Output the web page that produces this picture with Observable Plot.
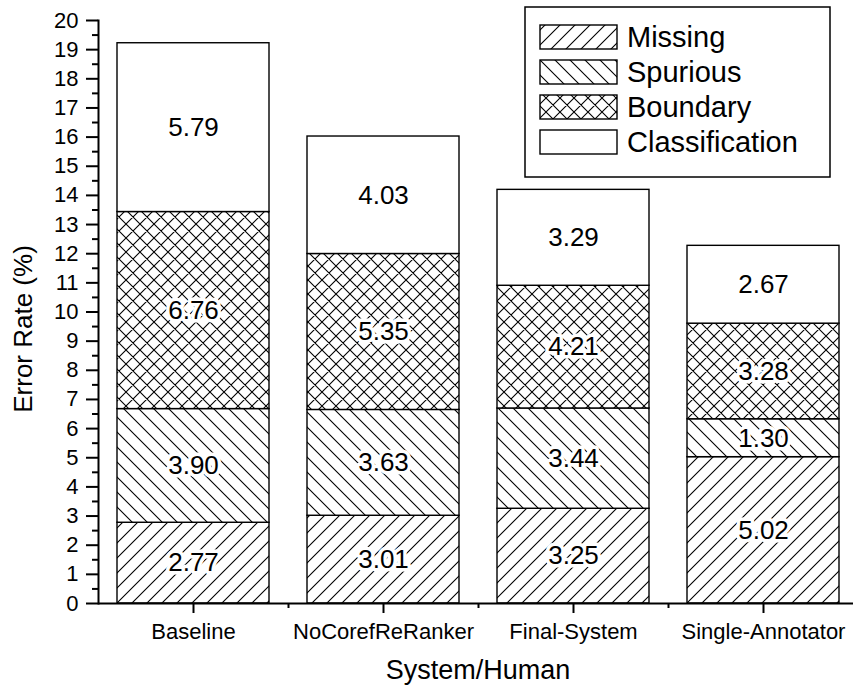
<!DOCTYPE html>
<html><head><meta charset="utf-8">
<script src="https://cdn.jsdelivr.net/npm/d3@7"></script>
<script src="https://cdn.jsdelivr.net/npm/@observablehq/plot@0.6"></script>
<style>html,body{margin:0;padding:0;background:#fff;} #chart{width:853px;height:686px;}</style>
</head><body><div id="chart"></div>
<script>
const categories = ["Baseline", "NoCorefReRanker", "Final-System", "Single-Annotator"];
const seriesNames = ["Missing", "Spurious", "Boundary", "Classification"];
const missing = [2.77, 3.01, 3.25, 5.02];
const spurious = [3.90, 3.63, 3.44, 1.30];
const boundary = [6.76, 5.35, 4.21, 3.28];
const classification = [5.79, 4.03, 3.29, 2.67];
const yTicks = d3.range(0, 21, 1);
const yMinor = d3.range(0.5, 20, 1);
const xTitle = "System/Human";
const yTitle = "Error Rate (%)";

const seriesValues = [missing, spurious, boundary, classification];
const fills = ["url(#hatch-missing)", "url(#hatch-spurious)", "url(#hatch-boundary)", "white"];

const rows = [];
categories.forEach((c, i) => {
  seriesValues.forEach((vals, j) => rows.push({category: c, series: seriesNames[j], value: vals[i]}));
});

const W = 853, H = 686, mL = 98, mT = 20, mB = 83;
const xRange = [98, 858];
const step = (xRange[1] - xRange[0]) / categories.length;
const fontFamily = "'Liberation Sans', Arial, Helvetica, sans-serif";

const svg = Plot.plot({
  width: W, height: H,
  marginLeft: mL, marginRight: 0, marginTop: mT, marginBottom: mB,
  style: {fontFamily, background: "white", color: "black", overflow: "visible"},
  x: {type: "band", domain: categories, range: xRange, paddingInner: 0.2, paddingOuter: 0.1},
  y: {domain: [0, 20]},
  color: {domain: seriesNames, range: fills},
  marks: [
    Plot.barY(rows, Plot.stackY({x: "category", y: "value", z: "series", order: seriesNames,
      fill: "series", stroke: "black", strokeWidth: 1.4})),
    Plot.text(rows, Plot.stackY({x: "category", y: "value", z: "series", order: seriesNames,
      text: d => d.value.toFixed(2), fontSize: 26, fill: "black", stroke: "white", strokeWidth: 7})),
    Plot.axisY(yTicks, {tickSize: 12, tickPadding: 8, fontSize: 22, strokeWidth: 2, label: null}),
    Plot.axisY(yMinor, {tickSize: 6, tickFormat: () => "", strokeWidth: 2, label: null}),
    Plot.axisX(categories, {tickSize: 10, tickPadding: 10, fontSize: 22, strokeWidth: 2, label: null}),
    Plot.axisX(categories.slice(1), {tickSize: 5, tickFormat: () => "", dx: -step / 2, strokeWidth: 2, label: null}),
    Plot.ruleY([0], {strokeWidth: 2}),
    Plot.frame({anchor: "left", strokeWidth: 2}),
    Plot.text([yTitle], {frameAnchor: "left", textAnchor: "middle", rotate: -90, dx: -75, dy: 17, fontSize: 26, fill: "black"}),
    Plot.text([xTitle], {frameAnchor: "bottom", textAnchor: "middle", lineAnchor: "bottom", dy: 75, dx: 2, fontSize: 27, fill: "black"})
  ]
});

const root = d3.select(svg);
const defs = root.insert("defs", ":first-child");
function addHatch(id, d, size) {
  const p = defs.append("pattern").attr("id", id).attr("patternUnits", "userSpaceOnUse")
    .attr("width", size).attr("height", size);
  p.append("rect").attr("width", size).attr("height", size).attr("fill", "white");
  p.append("path").attr("d", d).attr("stroke", "black").attr("stroke-width", 1.1).attr("fill", "none");
}
const s = 15;
const fwd = (n) => `M0,${n} L${n},0 M-2,2 L2,-2 M${n - 2},${n + 2} L${n + 2},${n - 2}`;
const back = (n) => `M0,0 L${n},${n} M-2,${n - 2} L2,${n + 2} M${n - 2},-2 L${n + 2},2`;
addHatch("hatch-missing", fwd(s), s);
addHatch("hatch-spurious", back(s), s);
const b = 14;
addHatch("hatch-boundary", fwd(b) + " " + back(b), b);

// legend
const lg = root.append("g").attr("font-family", fontFamily).attr("text-anchor", "start");
lg.append("rect").attr("x", 525).attr("y", 7).attr("width", 305).attr("height", 170)
  .attr("fill", "white").attr("stroke", "black").attr("stroke-width", 1.5);
seriesNames.forEach((name, k) => {
  const y0 = 25 + k * 35;
  lg.append("rect").attr("x", 540).attr("y", y0).attr("width", 77).attr("height", 24)
    .attr("fill", fills[k]).attr("stroke", "black").attr("stroke-width", 1.4);
  lg.append("text").attr("x", 627).attr("y", y0 + 22).attr("font-size", 29)
    .attr("text-anchor", "start").attr("fill", "black").text(name);
});

document.getElementById("chart").appendChild(svg);
</script>
</body></html>
